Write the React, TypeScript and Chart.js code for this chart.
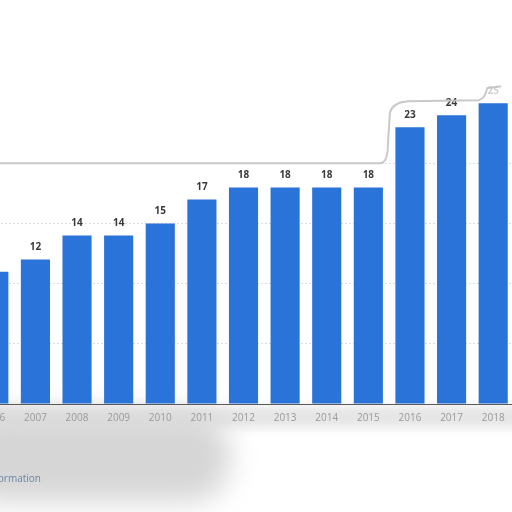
import React, { useEffect, useRef } from "react";
import { Chart, registerables, Plugin } from "chart.js";

Chart.register(...registerables);

const years = ["2006", "2007", "2008", "2009", "2010", "2011", "2012", "2013", "2014", "2015", "2016", "2017", "2018"];
const values = [11, 12, 14, 14, 15, 17, 18, 18, 18, 18, 23, 24, 25];

const BAR_BLUE = "#2a73d9";

// value labels above each bar
const valueLabels: Plugin<"bar"> = {
    id: "valueLabels",
    afterDatasetsDraw(chart) {
        const ctx = chart.ctx;
        const meta = chart.getDatasetMeta(0);
        ctx.save();
        ctx.font = "bold 10px 'Open Sans'";
        ctx.textAlign = "center";
        ctx.textBaseline = "bottom";
        meta.data.forEach((bar: any, i) => {
            const last = i === values.length - 1;
            ctx.fillStyle = last ? "rgba(180,180,180,0.6)" : "#3a3a3a";
            ctx.fillText(String(values[i]), bar.x, bar.y - 7);
        });
        ctx.restore();
    },
};

// soft grey edge of the cut-out region
const cutEdge: Plugin<"bar"> = {
    id: "cutEdge",
    afterDraw(chart) {
        const ctx = chart.ctx;
        const y = chart.scales.y;
        const x = chart.scales.x;
        const y20 = y.getPixelForValue(20);
        const yTop = y.getPixelForValue(25) - 3;
        const x16 = x.getPixelForValue(10) - 22;
        const x18 = x.getPixelForValue(12);
        ctx.save();
        ctx.strokeStyle = "rgba(195,195,195,0.9)";
        ctx.lineWidth = 2;
        ctx.beginPath();
        ctx.moveTo(0, y20);
        ctx.lineTo(x16 - 8, y20);
        ctx.quadraticCurveTo(x16, y20, x16, y20 - 20);
        ctx.lineTo(x16 + 2, yTop + 12);
        ctx.quadraticCurveTo(x16 + 5, yTop + 2, x16 + 20, yTop + 1);
        ctx.lineTo(x18 - 14, yTop);
        ctx.quadraticCurveTo(x18 - 8, yTop - 2, x18 - 6, yTop - 12);
        ctx.lineTo(x18 + 8, yTop - 14);
        ctx.stroke();
        ctx.restore();
    },
};

const App = () => {
    const canvasRef = useRef<HTMLCanvasElement | null>(null);
    const chartRef = useRef<Chart | null>(null);

    useEffect(() => {
        if (chartRef.current) {
            chartRef.current.destroy();
        }
        const ctx = canvasRef.current?.getContext("2d");
        if (ctx) {
            chartRef.current = new Chart(ctx, {
                type: "bar",
                data: {
                    labels: years,
                    datasets: [
                        {
                            data: values,
                            backgroundColor: BAR_BLUE,
                            barPercentage: 0.7,
                            categoryPercentage: 1,
                        },
                    ],
                },
                options: {
                    animation: false,
                    responsive: false,
                    maintainAspectRatio: false,
                    layout: { padding: { top: 43, bottom: 80, left: 0, right: 0 } },
                    plugins: {
                        legend: { display: false },
                        tooltip: { enabled: false },
                    },
                    scales: {
                        x: {
                            grid: { display: false, drawTicks: false },
                            border: { display: true, color: "#5a5a5a", width: 1 },
                            ticks: {
                                color: "#9a9a9a",
                                padding: 8,
                                font: { family: "'Open Sans'", size: 10 },
                            },
                        },
                        y: {
                            min: 0,
                            max: 30,
                            ticks: { display: false, stepSize: 5 },
                            border: { display: false, dash: [2, 2] },
                            grid: {
                                drawTicks: false,
                                color: (c: any) =>
                                    c.tick && c.tick.value >= 5 && c.tick.value <= 20 ? "#dcdcdc" : "transparent",
                            },
                        },
                    },
                },
                plugins: [valueLabels, cutEdge],
            });
        }
        return () => {
            if (chartRef.current) {
                chartRef.current.destroy();
                chartRef.current = null;
            }
        };
    }, []);

    return (
        <div
            style={{
                position: "fixed",
                left: 0,
                top: 0,
                width: 512,
                height: 512,
                overflow: "hidden",
                background: "#ffffff",
            }}
        >
            <div
                style={{
                    position: "absolute",
                    left: -10,
                    top: 406,
                    width: 540,
                    height: 22,
                    background: "#e6e6e6",
                    filter: "blur(5px)",
                }}
            />
            <div
                style={{
                    position: "absolute",
                    left: -40,
                    top: 412,
                    width: 270,
                    height: 90,
                    background: "#d6d6d6",
                    borderRadius: 40,
                    filter: "blur(14px)",
                }}
            />
            <canvas
                ref={canvasRef}
                width={541}
                height={512}
                style={{ position: "absolute", left: -27, top: 0 }}
            />
            <div
                style={{
                    position: "absolute",
                    right: 471,
                    top: 471,
                    whiteSpace: "nowrap",
                    font: "10px 'Open Sans'",
                    color: "#6a86a6",
                }}
            >
                Additional Information
            </div>
        </div>
    );
};

export default App;
